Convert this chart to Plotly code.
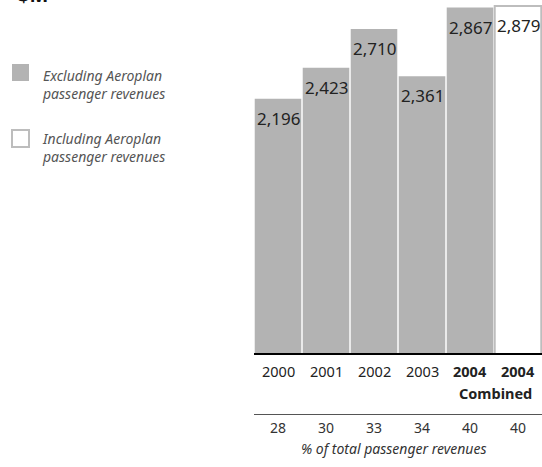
import plotly.graph_objects as go

categories = ["2000", "2001", "2002", "2003", "2004", "2004 Combined"]
year_labels = ["2000", "2001", "2002", "2003", "<b>2004</b>", "<b>2004</b>"]
revenues = [2196, 2423, 2710, 2361, 2867, 2879]
value_labels = ["2,196", "2,423", "2,710", "2,361", "2,867", "2,879"]
pct_total = ["28", "30", "33", "34", "40", "40"]

W, H = 542, 467
L, R, T, B = 254, 0, 0, 114
PW, PH = W - L - R, H - T - B

def px2x(px):
    return (px - L) / PW

def py2y(py):
    return (T + PH - py) / PH

FONT = "Noto Sans"
GRAY = "#b3b3b3"

fig = go.Figure()
fig.add_trace(go.Bar(
    x=list(range(len(categories))),
    y=revenues,
    marker=dict(
        color=[GRAY] * 5 + ["white"],
        line=dict(color=["rgba(0,0,0,0)"] * 5 + ["#bdbdbd"], width=[0] * 5 + [2]),
    ),
    hoverinfo="skip",
))

ann = []
for i, (v, t) in enumerate(zip(revenues, value_labels)):
    ann.append(dict(x=i, y=v, xref="x", yref="y", text=t, showarrow=False,
                    yanchor="top", yshift=-6,
                    font=dict(family=FONT, size=17, color="#222")))
for i, t in enumerate(year_labels):
    ann.append(dict(x=i, y=py2y(371), xref="x", yref="paper", text=t, showarrow=False,
                    yanchor="middle", font=dict(family=FONT, size=14.5, color="#222")))
ann.append(dict(x=5, y=py2y(393), xref="x", yref="paper", text="<b>Combined</b>",
                showarrow=False, xanchor="right", xshift=16, yanchor="middle",
                font=dict(family=FONT, size=14.5, color="#222")))
for i, t in enumerate(pct_total):
    ann.append(dict(x=i, y=py2y(427), xref="x", yref="paper", text=t, showarrow=False,
                    yanchor="middle", font=dict(family=FONT, size=14, color="#333")))
ann.append(dict(x=px2x(394), y=py2y(448), xref="paper", yref="paper",
                text="<i>% of total passenger revenues</i>", showarrow=False,
                yanchor="middle", font=dict(family=FONT, size=14, color="#333")))
# title, clipped at the top edge as in the reference
ann.append(dict(x=px2x(16), y=1, xref="paper", yref="paper", text="<b>$M</b>",
                showarrow=False, xanchor="left", yanchor="bottom", yshift=-10,
                font=dict(family=FONT, size=20, color="#111")))
# legend text
for y0, lines in [(74, "Excluding Aeroplan"), (137, "Including Aeroplan")]:
    ann.append(dict(x=px2x(40), y=py2y(y0 + 10), xref="paper", yref="paper",
                    text="<i>" + lines + "<br>passenger revenues</i>", showarrow=False,
                    xanchor="left", yanchor="middle", align="left",
                    font=dict(family=FONT, size=14, color="#555")))

shapes = [
    dict(type="rect", xref="paper", yref="paper", x0=px2x(12), x1=px2x(29),
         y0=py2y(81), y1=py2y(64), fillcolor=GRAY, line=dict(width=0)),
    dict(type="rect", xref="paper", yref="paper", x0=px2x(12), x1=px2x(29),
         y0=py2y(147), y1=py2y(130), fillcolor="white", line=dict(color="#bdbdbd", width=2)),
    dict(type="line", xref="paper", yref="paper", x0=0, x1=1,
         y0=py2y(414.5), y1=py2y(414.5), line=dict(color="#555", width=1)),
]

fig.update_layout(
    width=W, height=H,
    margin=dict(l=L, r=R, t=T, b=B, pad=0),
    paper_bgcolor="white", plot_bgcolor="white",
    showlegend=False, bargap=0.03,
    xaxis=dict(range=[-0.5, 5.5], showticklabels=False, showgrid=False, zeroline=False,
               showline=True, linecolor="black", linewidth=2, ticks=""),
    yaxis=dict(range=[322, 2923], visible=False, showgrid=False, zeroline=False),
    annotations=ann, shapes=shapes,
)
fig.write_html("out.html")
